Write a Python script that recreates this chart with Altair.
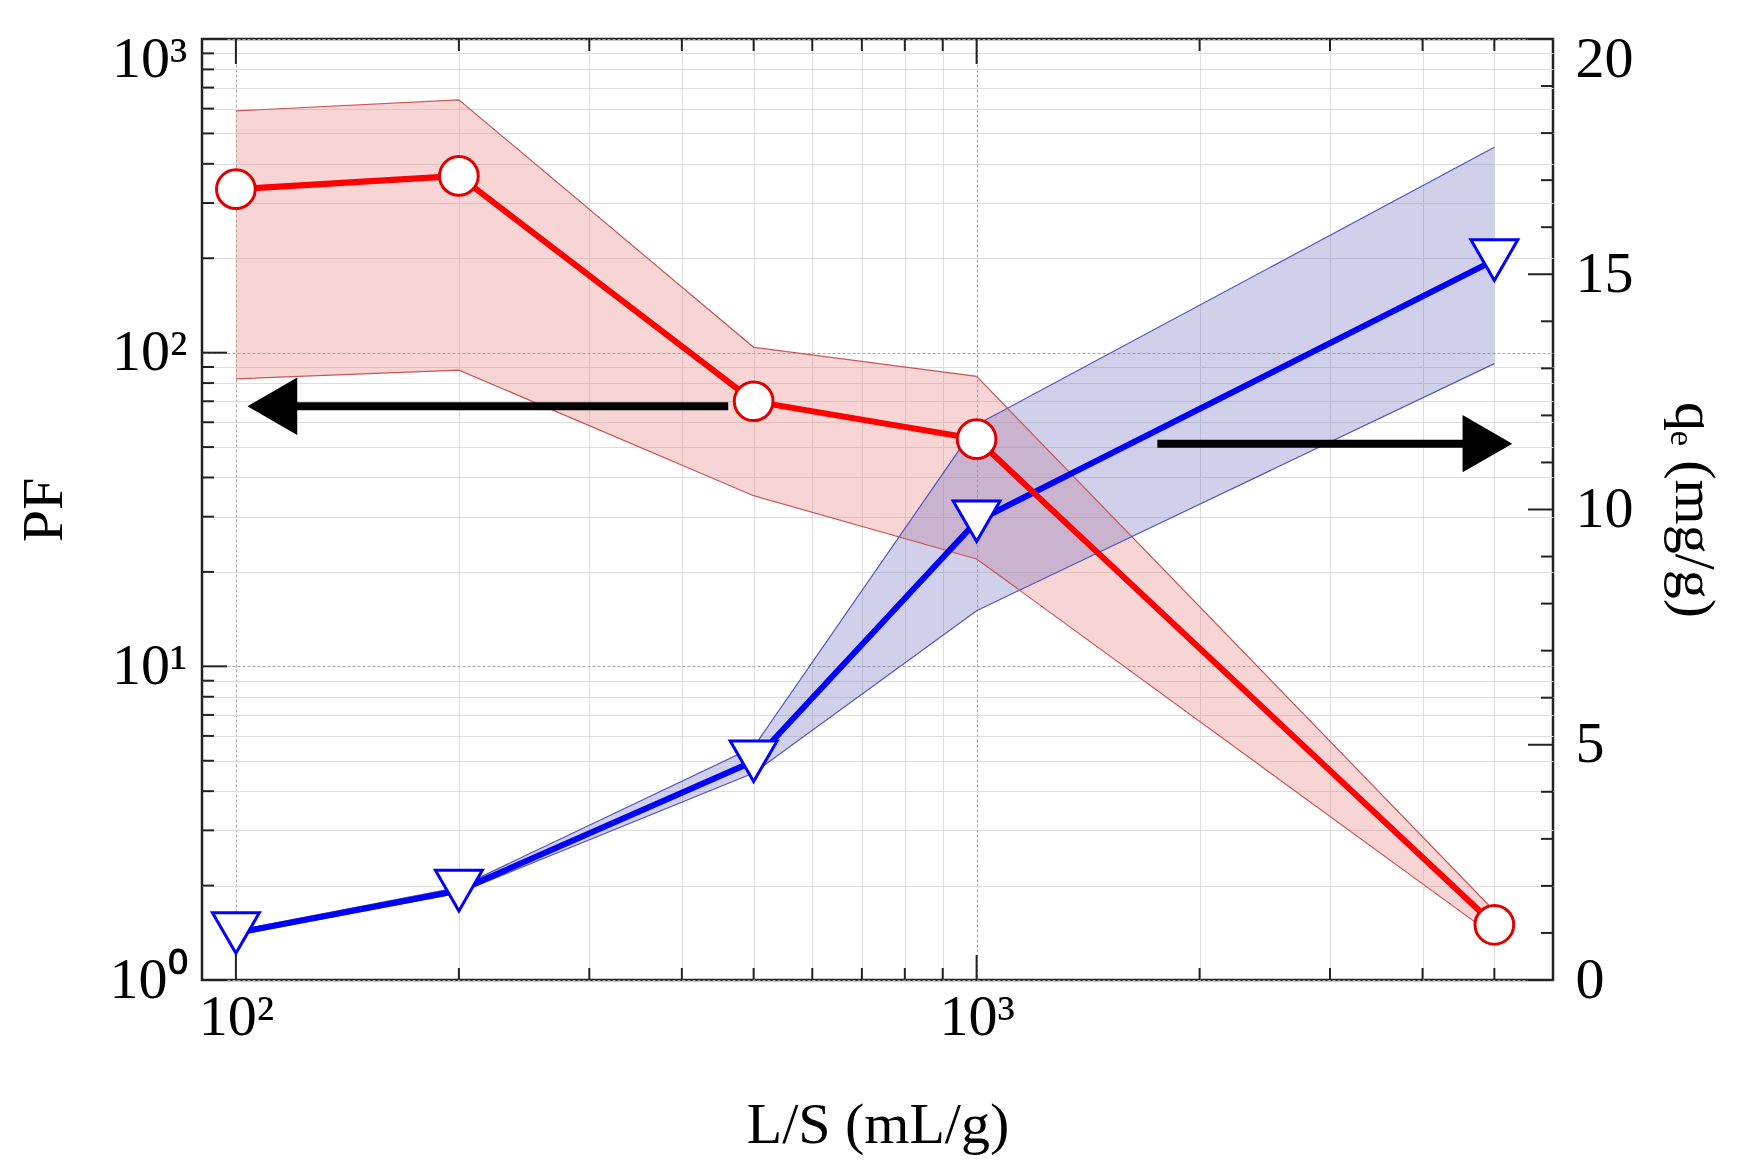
import altair as alt
import pandas as pd

# ---- data ----
LS = [100, 200, 500, 1000, 5000]
PF = [332, 366, 70, 53, 1.5]
PF_HI = [590, 640, 104, 84, 1.66]
PF_LO = [82.5, 88, 35, 22, 1.38]
QE = [1.0, 1.9, 4.65, 9.75, 15.3]
QE_HI = [1.05, 1.97, 4.95, 11.8, 17.7]
QE_LO = [0.95, 1.85, 4.4, 7.85, 13.1]

X_DOMAIN = [90, 6000]
PF_DOMAIN = [1, 1000]
QE_DOMAIN = [0, 20]

X_GRID = [100, 200, 300, 400, 500, 600, 700, 800, 900, 1000, 2000, 3000, 4000, 5000]
X_MAJOR = [100, 1000]
PF_GRID = [1, 2, 3, 4, 5, 6, 7, 8, 9, 10, 20, 30, 40, 50, 60, 70, 80, 90,
           100, 200, 300, 400, 500, 600, 700, 800, 900, 1000]
PF_MAJOR = [1, 10, 100, 1000]
QE_GRID = list(range(0, 21))
QE_MAJOR = [0, 5, 10, 15, 20]

# arrows (data units)
ARROW_L_X = [462, 112]
ARROW_L_Y = 67.5
ARROW_R_X = [1754, 4894]
ARROW_R_Y = 11.4

W, H = 1351, 941
FONT = "Liberation Serif"
FS = 58

df = pd.DataFrame({"ls": LS, "pf": PF, "pf_hi": PF_HI, "pf_lo": PF_LO,
                   "qe": QE, "qe_hi": QE_HI, "qe_lo": QE_LO})

xscale = alt.Scale(type="log", domain=X_DOMAIN, nice=False)
pfscale = alt.Scale(type="log", domain=PF_DOMAIN, nice=False)
qescale = alt.Scale(type="linear", domain=QE_DOMAIN, nice=False, zero=True)

def grid_color(major):
    return {"condition": {"test": "indexof(%s, datum.value) >= 0" % str(major), "value": "#a8a8a8"},
            "value": "#dedede"}

def grid_dash(major):
    return {"condition": {"test": "indexof(%s, datum.value) >= 0" % str(major), "value": [3, 2]},
            "value": []}

def top_offset(top):
    return {"condition": {"test": "datum.value == %s" % top, "value": 20}, "value": 0}

xaxis = alt.Axis(title="L/S (mL/g)", values=X_GRID,
                 labelExpr="datum.value == 100 ? '10²' : datum.value == 1000 ? '10³' : ''",
                 grid=True, gridColor=grid_color(X_MAJOR), gridDash=grid_dash(X_MAJOR),
                 ticks=False, labelPadding=8, titlePadding=50, labelOverlap=False,
                 labelFlush=False, domain=False)
leftaxis = alt.Axis(orient="left", title="PF", values=PF_GRID,
                    labelExpr="datum.value == 1 ? '10⁰' : datum.value == 10 ? '10¹' : "
                              "datum.value == 100 ? '10²' : datum.value == 1000 ? '10³' : ''",
                    grid=True, gridColor=grid_color(PF_MAJOR), gridDash=grid_dash(PF_MAJOR),
                    ticks=False, labelPadding=15, titlePadding=36, labelOverlap=False,
                    labelOffset=top_offset(1000), domain=False)
rightaxis = alt.Axis(orient="right", title="qₑ (mg/g)", values=QE_GRID,
                     labelExpr="datum.value % 5 == 0 ? datum.label : ''",
                     grid=False, ticks=False, labelPadding=22, titlePadding=30,
                     labelOverlap=False, labelOffset=top_offset(20), domain=False)

X = alt.X("ls:Q", scale=xscale, axis=xaxis)
base = alt.Chart(df)

RED_FILL = "#e88080"
BLUE_FILL = "#6c6cc0"

red_band = base.mark_area(color=RED_FILL, opacity=0.33).encode(
    x=X, y=alt.Y("pf_hi:Q", scale=pfscale, axis=leftaxis), y2="pf_lo:Q")
blue_band = base.mark_area(color=BLUE_FILL, opacity=0.32).encode(
    x=X, y=alt.Y("qe_hi:Q", scale=qescale, axis=rightaxis), y2="qe_lo:Q")

def edge(field, scale, color):
    return base.mark_line(color=color, strokeWidth=1.2).encode(
        x=X, y=alt.Y(field + ":Q", scale=scale, axis=None))

red_hi = edge("pf_hi", pfscale, "#cc5555")
red_lo = edge("pf_lo", pfscale, "#cc5555")
blue_hi = edge("qe_hi", qescale, "#5555bb")
blue_lo = edge("qe_lo", qescale, "#5555bb")

blue_line = base.mark_line(color="#0000ff", strokeWidth=6).encode(
    x=X, y=alt.Y("qe:Q", scale=qescale, axis=None))
red_line = base.mark_line(color="#ff0000", strokeWidth=6).encode(
    x=X, y=alt.Y("pf:Q", scale=pfscale, axis=None))

blue_pts = base.mark_point(shape="triangle-down", size=2200, filled=True, fill="white",
                           stroke="#0000ff", strokeWidth=3, opacity=1).encode(
    x=X, y=alt.Y("qe:Q", scale=qescale, axis=None))
red_pts = base.mark_point(shape="circle", size=1500, filled=True, fill="white",
                          stroke="#e00000", strokeWidth=3, opacity=1).encode(
    x=X, y=alt.Y("pf:Q", scale=pfscale, axis=None))

# arrows
dfl = pd.DataFrame({"ls": ARROW_L_X, "y": [ARROW_L_Y] * 2})
dfr = pd.DataFrame({"ls": ARROW_R_X, "y": [ARROW_R_Y] * 2})
arrow_l = alt.Chart(dfl).mark_line(color="black", strokeWidth=8).encode(
    x=X, y=alt.Y("y:Q", scale=pfscale, axis=None))
head_l = alt.Chart(dfl.iloc[[1]]).mark_point(shape="triangle-left", size=3300, filled=True,
                                             color="black", opacity=1).encode(
    x=X, y=alt.Y("y:Q", scale=pfscale, axis=None))
arrow_r = alt.Chart(dfr).mark_line(color="black", strokeWidth=8).encode(
    x=X, y=alt.Y("y:Q", scale=qescale, axis=None))
head_r = alt.Chart(dfr.iloc[[1]]).mark_point(shape="triangle-right", size=3300, filled=True,
                                             color="black", opacity=1).encode(
    x=X, y=alt.Y("y:Q", scale=qescale, axis=None))

# inward ticks
def yticks(vals, scale, x0, x1):
    return alt.Chart(pd.DataFrame({"v": vals})).mark_rule(color="#222222", strokeWidth=2).encode(
        y=alt.Y("v:Q", scale=scale, axis=None), x=alt.value(x0), x2=alt.value(x1))

def xticks(vals, y0, y1):
    return alt.Chart(pd.DataFrame({"ls": vals})).mark_rule(color="#222222", strokeWidth=2).encode(
        x=X, y=alt.value(y0), y2=alt.value(y1))

pf_minor = [v for v in PF_GRID if v not in PF_MAJOR]
qe_minor = [v for v in QE_GRID if v not in QE_MAJOR]
x_minor = [v for v in X_GRID if v not in X_MAJOR]

ticks = [
    yticks(PF_MAJOR, pfscale, 0, 25), yticks(pf_minor, pfscale, 0, 12),
    yticks(QE_MAJOR, qescale, W, W - 25), yticks(qe_minor, qescale, W, W - 12),
    xticks(X_MAJOR, H, H - 25), xticks(x_minor, H, H - 12),
    xticks(X_MAJOR, 0, 25), xticks(x_minor, 0, 12),
]

chart = alt.layer(
    red_band, blue_band, red_hi, red_lo, blue_hi, blue_lo,
    blue_line, red_line, blue_pts, red_pts,
    arrow_l, head_l, arrow_r, head_r, *ticks
).resolve_scale(y="independent").properties(
    width=W, height=H,
    autosize=alt.AutoSizeParams(type="none"),
    padding={"left": 194, "top": 31, "right": 180, "bottom": 180},
).configure_axis(
    labelFont=FONT, titleFont=FONT, labelFontSize=FS, titleFontSize=FS,
    titleFontWeight="normal", labelColor="black", titleColor="black",
).configure_view(stroke="#222222", strokeWidth=2.5)

chart.save("out.html", embed_options={"renderer": "svg", "actions": False})
